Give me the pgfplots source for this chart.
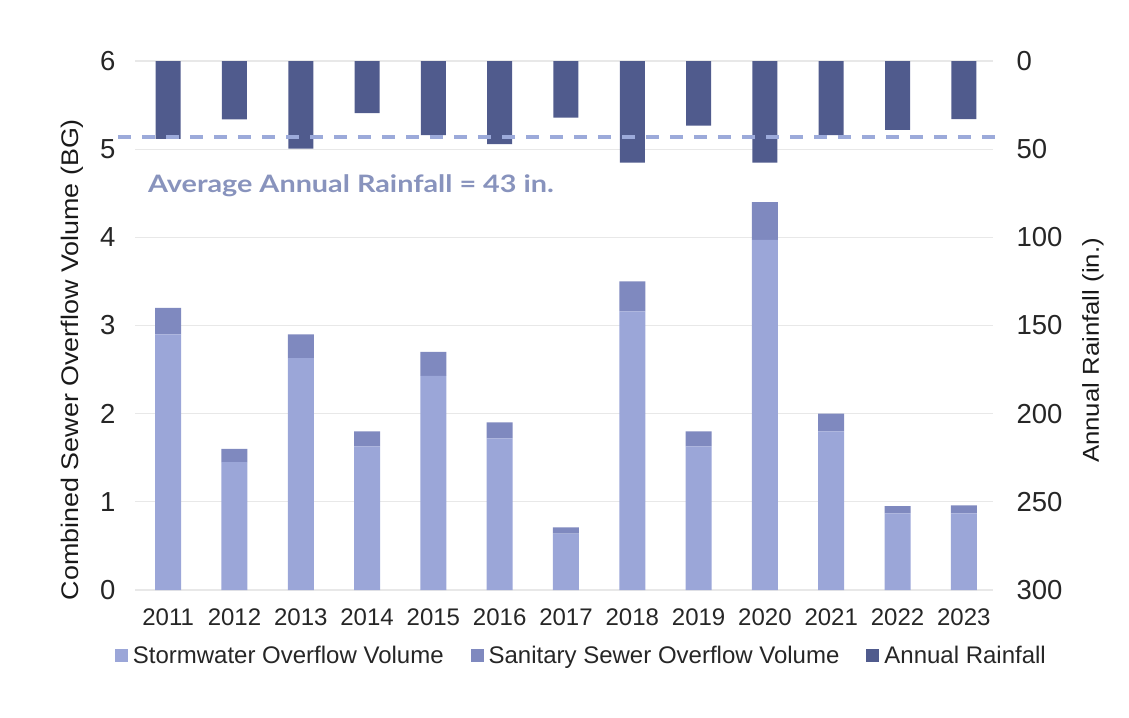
\documentclass[border=0pt]{standalone}
\usepackage{pgfplots}
\pgfplotsset{compat=1.18}
\usepackage{fontspec}
\setmainfont{Liberation Sans}
\newfontfamily\labfont[FakeStretch=1.12]{Liberation Sans}
\newfontfamily\avgfont[FakeStretch=1.2]{Lato}
\definecolor{stormc}{HTML}{9BA6D8}
\definecolor{sanc}{HTML}{7F89BF}
\definecolor{rainc}{HTML}{505B8D}
\definecolor{avgc}{HTML}{9CAADA}
\definecolor{avgtxt}{HTML}{8893BD}
\definecolor{gridc}{HTML}{E8E8E8}
\begin{document}
\begin{tikzpicture}
\useasboundingbox (-135pt,-127pt) rectangle (994pt,590pt);
\begin{axis}[
  scale only axis, width=858pt, height=529pt,
  xmin=2010.5, xmax=2023.44,
  ymin=0, ymax=6,
  ybar stacked, bar width=26pt,
  axis line style={draw=none}, tick style={draw=none},
  ymajorgrids, grid style={draw=gridc, line width=1.2pt},
  xtick={2011,2012,2013,2014,2015,2016,2017,2018,2019,2020,2021,2022,2023},
  xticklabels={2011,2012,2013,2014,2015,2016,2017,2018,2019,2020,2021,2022,2023},
  ytick={0,1,2,3,4,5,6},
  /pgf/number format/assume math mode=true,
  xticklabel style={font=\fontsize{24}{26}\selectfont, yshift=-15pt, text=black!85},
  yticklabel style={font=\fontsize{27.5}{30}\selectfont, xshift=-16pt, text=black!85},
  ylabel={Combined Sewer Overflow Volume (BG)},
  every axis y label/.style={at={(axis description cs:0,0.5)}, anchor=center, xshift=-63pt, yshift=-34pt, rotate=90, font=\labfont\fontsize{24}{26}\selectfont, text=black!90},
  legend style={at={(axis description cs:0.522,0)}, anchor=north, yshift=-52pt, draw=none, fill=none,
    font=\fontsize{24}{26}\selectfont, text=black!85, legend columns=-1,
    /tikz/every even column/.append style={column sep=22pt},
    nodes={inner xsep=5pt}},
  legend image code/.code={\path[#1,draw=none] (0pt,-6.5pt) rectangle (13pt,6.5pt);},
]
\addplot[fill=stormc, draw=none] coordinates {
(2011,2.90) (2012,1.45) (2013,2.63) (2014,1.63) (2015,2.43) (2016,1.72) (2017,0.64)
(2018,3.16) (2019,1.63) (2020,3.97) (2021,1.80) (2022,0.87) (2023,0.87)};
\addplot[fill=sanc, draw=none] coordinates {
(2011,0.30) (2012,0.15) (2013,0.27) (2014,0.17) (2015,0.27) (2016,0.18) (2017,0.07)
(2018,0.34) (2019,0.17) (2020,0.43) (2021,0.20) (2022,0.08) (2023,0.09)};
\addlegendimage{fill=rainc, draw=none}
\legend{Stormwater Overflow Volume, Sanitary Sewer Overflow Volume, Annual Rainfall}
\end{axis}
\begin{axis}[
  scale only axis, width=858pt, height=529pt,
  xmin=2010.5, xmax=2023.44,
  ymin=0, ymax=300, y dir=reverse,
  axis y line*=right, axis x line=none,
  axis line style={draw=none}, tick style={draw=none},
  ytick={0,50,100,150,200,250,300},
  /pgf/number format/assume math mode=true,
  yticklabel style={font=\fontsize{27.5}{30}\selectfont, xshift=20pt, text=black!85},
  ylabel={Annual Rainfall (in.)},
  every axis y label/.style={at={(axis description cs:1,0.5)}, anchor=center, xshift=100pt, yshift=-25pt, rotate=90, font=\labfont\fontsize{23}{26}\selectfont, text=black!90},
  clip=false,
]
\addplot[ybar, bar width=25pt, fill=rainc, draw=none] coordinates {
(2011,44.2) (2012,33.1) (2013,49.7) (2014,29.5) (2015,42.0) (2016,47.1) (2017,32.1)
(2018,57.7) (2019,36.7) (2020,57.7) (2021,42.0) (2022,39.1) (2023,32.9)};
\addplot[sharp plot, no marks, draw=avgc, line width=4pt, dash pattern=on 13pt off 11pt] coordinates {(2010.25,43) (2023.55,43)};
\node[anchor=west, font=\avgfont\bfseries\fontsize{24}{26}\selectfont, text=avgtxt, inner sep=0pt] at (axis description cs:0.015,0.765) {Average Annual Rainfall = 43 in.};
\end{axis}
\end{tikzpicture}
\end{document}
